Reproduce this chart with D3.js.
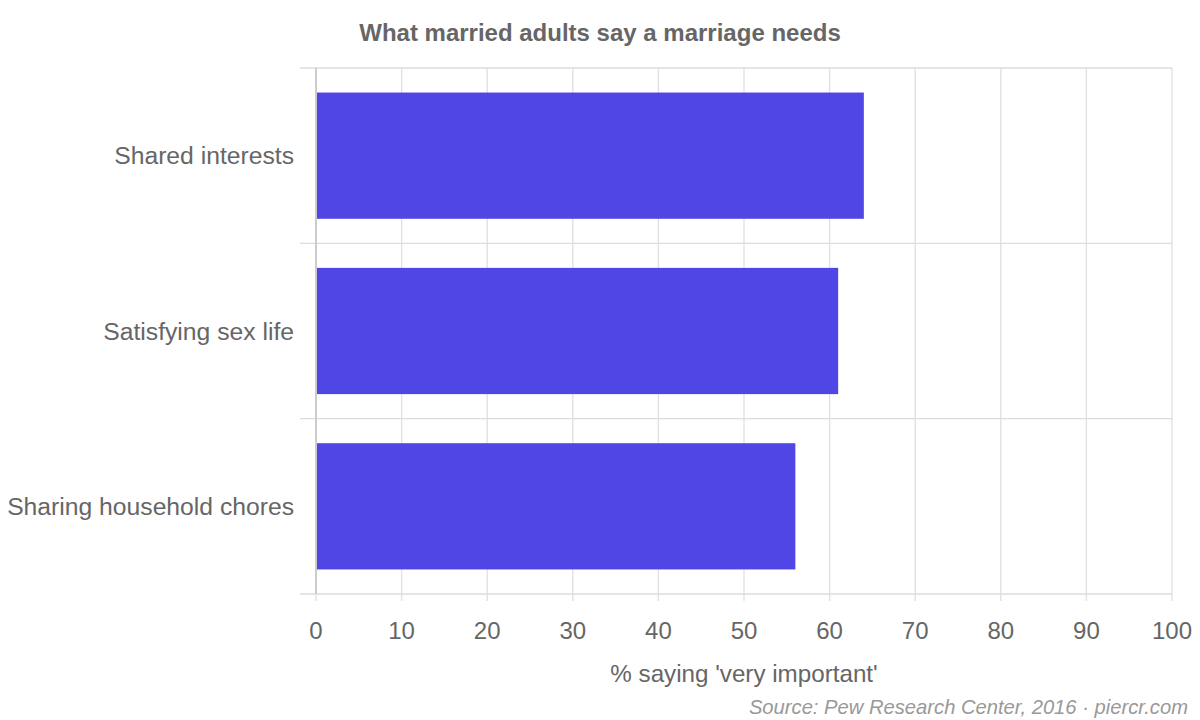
<!DOCTYPE html>
<html>
<head>
<meta charset="utf-8">
<script src="https://cdn.jsdelivr.net/npm/d3@7"></script>
<style>
  body { margin: 0; background: #fff; }
  text { font-family: "Liberation Sans", Arial, sans-serif; }
</style>
</head>
<body>
<div id="chart"></div>
<script>
let categories = ["Shared interests", "Satisfying sex life", "Sharing household chores"];
let values = [64, 61, 56];
let xTicks = [0, 10, 20, 30, 40, 50, 60, 70, 80, 90, 100];

let width = 1200, height = 720;
let margin = {top: 68, right: 28, bottom: 126, left: 316};
let innerW = width - margin.left - margin.right;
let innerH = height - margin.top - margin.bottom;

let svg = d3.select("#chart").append("svg")
    .attr("width", width)
    .attr("height", height);

let g = svg.append("g")
    .attr("transform", "translate(" + margin.left + "," + margin.top + ")");

let x = d3.scaleLinear().domain([0, 100]).range([0, innerW]);
let y = d3.scaleBand().domain(categories).range([0, innerH]).paddingInner(0.28).paddingOuter(0.14);

// vertical gridlines
g.selectAll(".vgrid")
    .data(xTicks.slice(1))
    .enter().append("line")
    .attr("x1", d => x(d)).attr("x2", d => x(d))
    .attr("y1", 0).attr("y2", innerH + 7)
    .attr("stroke", "#e0e0e0").attr("stroke-width", 1.3);

// band boundaries
let bounds = [0].concat(categories.map(c => y(c) + y.bandwidth() + y.step() * y.paddingInner() / 2));
bounds[bounds.length - 1] = innerH;
g.selectAll(".hgrid")
    .data(bounds)
    .enter().append("line")
    .attr("x1", -16).attr("x2", innerW)
    .attr("y1", d => d).attr("y2", d => d)
    .attr("stroke", "#dcdcdc").attr("stroke-width", 1.3);

// zero tick below
g.append("line")
    .attr("x1", 0).attr("x2", 0)
    .attr("y1", innerH).attr("y2", innerH + 7)
    .attr("stroke", "#e0e0e0").attr("stroke-width", 1.3);

// bars
g.selectAll(".bar")
    .data(values)
    .enter().append("rect")
    .attr("x", x(0))
    .attr("y", (d, i) => y(categories[i]))
    .attr("width", d => x(d) - x(0))
    .attr("height", y.bandwidth())
    .attr("fill", "#4f46e5");

// y axis line
g.append("line")
    .attr("x1", 0).attr("x2", 0)
    .attr("y1", 0).attr("y2", innerH)
    .attr("stroke", "#cccccc").attr("stroke-width", 2);

// y labels
g.selectAll(".ylab")
    .data(categories)
    .enter().append("text")
    .attr("x", -22)
    .attr("y", d => y(d) + y.bandwidth() / 2)
    .attr("dy", "0.35em")
    .attr("text-anchor", "end")
    .attr("font-size", 24.7)
    .attr("fill", "#666")
    .text(d => d);

// x labels
g.selectAll(".xlab")
    .data(xTicks)
    .enter().append("text")
    .attr("x", d => x(d))
    .attr("y", 639 - margin.top)
    .attr("text-anchor", "middle")
    .attr("font-size", 24)
    .attr("fill", "#666")
    .text(d => d);

// x axis title
svg.append("text")
    .attr("x", margin.left + innerW / 2)
    .attr("y", 682)
    .attr("text-anchor", "middle")
    .attr("font-size", 24.2)
    .attr("fill", "#666")
    .text("% saying 'very important'");

// title
svg.append("text")
    .attr("x", 600)
    .attr("y", 41)
    .attr("text-anchor", "middle")
    .attr("font-size", 24)
    .attr("font-weight", "bold")
    .attr("fill", "#666")
    .text("What married adults say a marriage needs");

// source
svg.append("text")
    .attr("x", 1188)
    .attr("y", 714)
    .attr("text-anchor", "end")
    .attr("font-size", 20.2)
    .attr("font-style", "italic")
    .attr("fill", "#999")
    .text("Source: Pew Research Center, 2016 · piercr.com");
</script>
</body>
</html>
